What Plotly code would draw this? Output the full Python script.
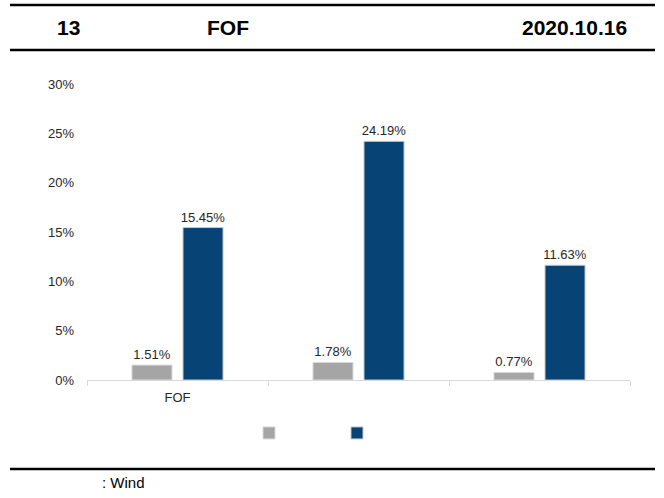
import plotly.graph_objects as go

categories = ["FOF", "\u200b", "\u200b\u200b"]
series_gray = [0.0151, 0.0178, 0.0077]
series_blue = [0.1545, 0.2419, 0.1163]
tick_vals = [0, 0.05, 0.10, 0.15, 0.20, 0.25, 0.30]
tick_text = ["0%", "5%", "10%", "15%", "20%", "25%", "30%"]

W, H = 664, 498
L, R, T, B = 87, 34, 84, 118
pw, ph = W - L - R, H - T - B

def px(x):
    return (x - L) / pw

def py(y):
    return (H - B - y) / ph

font = "Arial, Liberation Sans, sans-serif"

fig = go.Figure()
fig.add_trace(go.Bar(
    x=categories, y=series_gray, name="",
    marker=dict(color="#a5a5a5", line=dict(color="#d9d9d9", width=1)),
    texttemplate="%{y:.2%}", textposition="outside", cliponaxis=False, constraintext="none",
    textfont=dict(size=13, color="#262626", family=font),
))
fig.add_trace(go.Bar(
    x=categories, y=series_blue, name="",
    marker=dict(color="#074475", line=dict(color="#c8c8c8", width=1)),
    texttemplate="%{y:.2%}", textposition="outside", cliponaxis=False, constraintext="none",
    textfont=dict(size=13, color="#262626", family=font),
))

shapes = []
for yy, x0, x1 in [(5, 10, 655), (50, 10, 655), (469, 10, 655)]:
    shapes.append(dict(type="line", xref="paper", yref="paper",
                       x0=px(x0), x1=px(x1), y0=py(yy), y1=py(yy),
                       line=dict(color="black", width=2.5)))

annotations = [
    dict(text="<b>13</b>", x=px(68.5), y=py(27), xanchor="center", yanchor="middle"),
    dict(text="<b>FOF</b>", x=px(228), y=py(27), xanchor="center", yanchor="middle"),
    dict(text="<b>2020.10.16</b>", x=px(629), y=py(27), xanchor="right", yanchor="middle"),
]
for a in annotations:
    a.update(xref="paper", yref="paper", showarrow=False,
             font=dict(size=21, color="black", family=font))
annotations.append(dict(text=": Wind", x=px(100), y=py(482), xanchor="left", yanchor="middle",
                        xref="paper", yref="paper", showarrow=False,
                        font=dict(size=15, color="black", family=font)))

fig.update_layout(
    width=W, height=H,
    margin=dict(l=L, r=R, t=T, b=B, pad=0),
    paper_bgcolor="white", plot_bgcolor="white",
    barmode="group", bargap=0.436, bargroupgap=0.216,
    font=dict(family=font, size=13, color="#262626"),
    showlegend=True,
    legend=dict(orientation="h", x=px(337), xanchor="center", y=py(433), yanchor="middle",
                entrywidth=43, entrywidthmode="pixels", font=dict(size=13),
                bgcolor="rgba(0,0,0,0)"),
    shapes=shapes, annotations=annotations,
    xaxis=dict(type="category", showgrid=False, showline=True, linecolor="#d9d9d9", linewidth=1,
               ticks="outside", tickson="boundaries", ticklen=5, tickcolor="#d9d9d9",
               ticklabelstandoff=5,
               tickfont=dict(size=13, color="#262626"), zeroline=False),
    yaxis=dict(range=[0, 0.30], tickvals=tick_vals, ticktext=tick_text, showgrid=False,
               showline=False, zeroline=False, ticks="", ticklabelstandoff=12,
               tickfont=dict(size=13, color="#262626")),
)

fig.write_html("out.html", post_script="document.body.style.margin='0';",
               config={"displayModeBar": False})
